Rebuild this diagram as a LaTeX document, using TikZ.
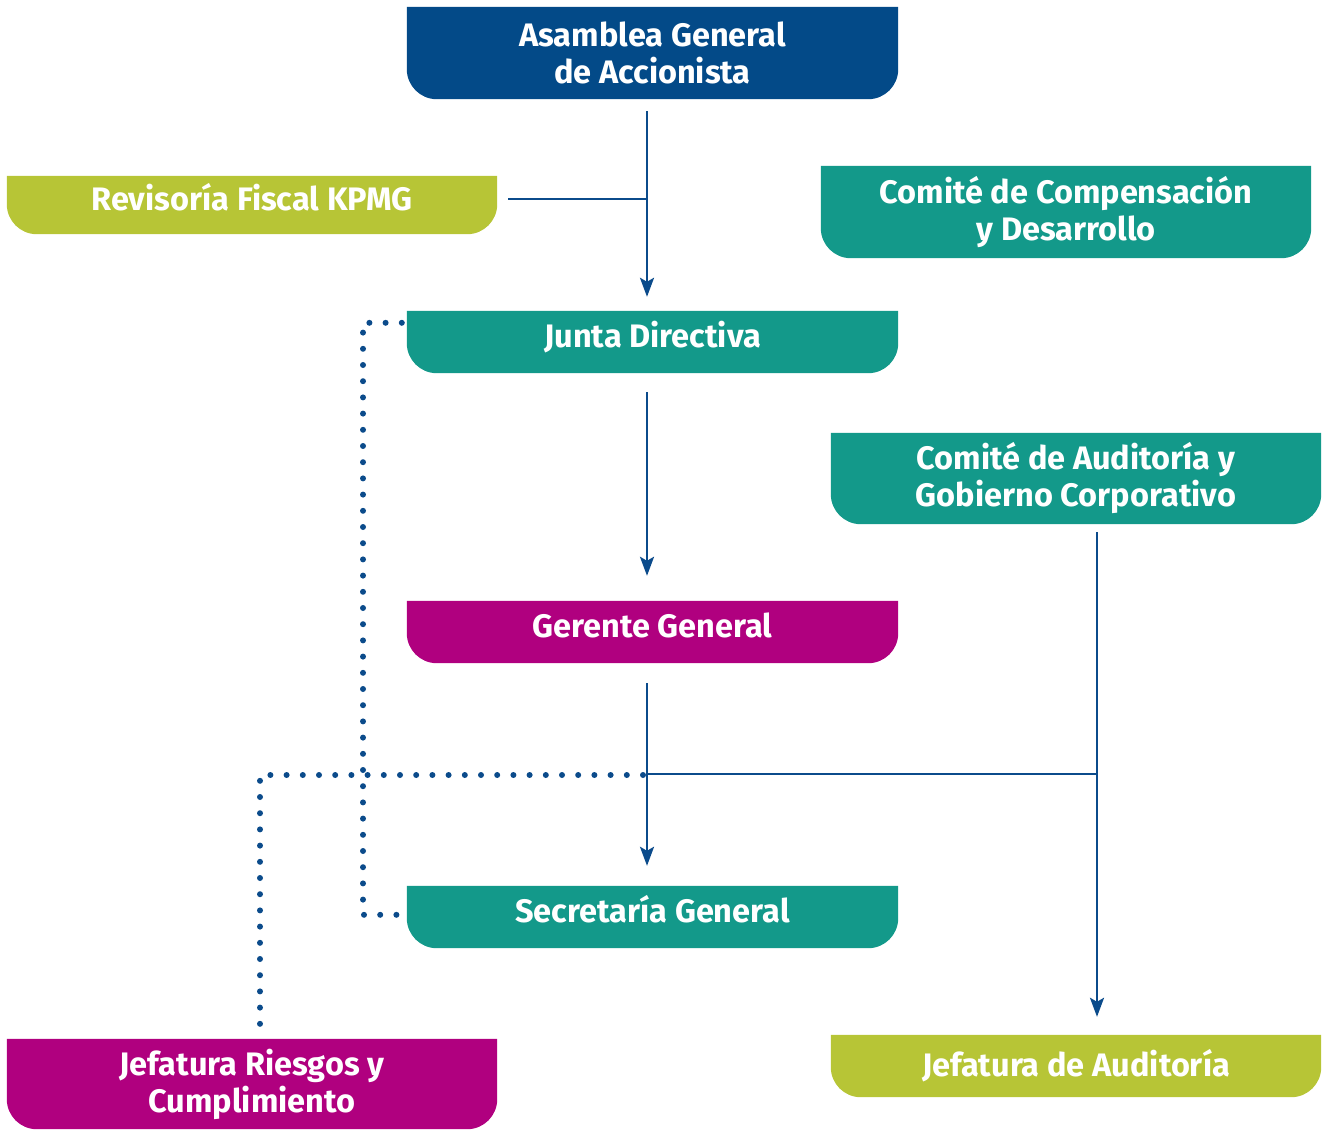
\documentclass[tikz,border=0pt]{standalone}
\usepackage{fontspec}
\setmainfont{Fira Sans}
\usetikzlibrary{arrows.meta,backgrounds}

\definecolor{navybox}{HTML}{034A88}
\definecolor{linkblue}{HTML}{0B4B8B}
\definecolor{limebox}{HTML}{B7C536}
\definecolor{tealbox}{HTML}{13998A}
\definecolor{plumbox}{HTML}{B0007F}

\tikzset{
  orgbox/.style={rectangle, inner sep=0pt, minimum width=491pt, align=center,
    text=white, font=\bfseries\fontsize{32.5}{37}\selectfont},
  oneline/.style={text height=22pt, text depth=11.6pt},
  link/.style={draw=linkblue, line width=2.6pt},
  arrowlink/.style={link, -{Stealth[length=19pt,width=14pt,inset=4pt]}},
  dotlink/.style={draw=linkblue, line width=6pt, line cap=round,
    dash pattern=on 0pt off 16.2pt},
}

\begin{document}
\begin{tikzpicture}[x=1pt,y=1pt]
\useasboundingbox (0,0) rectangle (1324,-1129);

% boxes
\node[orgbox, minimum height=92pt] (asm) at (652.5,-53) {Asamblea General\\de Accionista};
\node[orgbox, oneline, minimum height=58pt, minimum width=490pt] (rev) at (252,-205) {Revisoría Fiscal KPMG};
\node[orgbox, minimum height=92pt, minimum width=490pt] (ccd) at (1066,-212) {Comité de Compensación\\y Desarrollo};
\node[orgbox, oneline, minimum height=62pt] (jd) at (652.5,-342) {Junta Directiva};
\node[orgbox, minimum height=91pt, minimum width=490pt] (cag) at (1076,-478.5) {Comité de Auditoría y\\Gobierno Corporativo};
\node[orgbox, oneline, minimum height=62pt] (gg) at (652.5,-632) {Gerente General};
\node[orgbox, oneline, minimum height=62pt] (sg) at (652.5,-917) {Secretaría General};
\node[orgbox, minimum height=90pt, minimum width=490pt] (jrc) at (252,-1084) {Jefatura Riesgos y\\Cumplimiento};
\node[orgbox, minimum height=62pt, minimum width=490pt] (ja) at (1076,-1066) {Jefatura de Auditoría};

% box backgrounds: square top, rounded bottom
\begin{scope}[on background layer]
\foreach \n/\c in {asm/navybox, rev/limebox, ccd/tealbox, jd/tealbox, cag/tealbox,
                   gg/plumbox, sg/tealbox, jrc/plumbox, ja/limebox}
  \fill[\c] (\n.north west) -- (\n.north east)
    -- ([yshift=30pt]\n.south east) arc[start angle=0, end angle=-90, radius=30pt]
    -- ([xshift=30pt]\n.south west) arc[start angle=-90, end angle=-180, radius=30pt]
    -- cycle;
\end{scope}

% guide columns for the connectors
\coordinate (spine) at (647,0);
\coordinate (audx) at (1097,0);
\coordinate (split) at (647,-774);
\coordinate (dotx) at (363,0);
\coordinate (riskx) at (260,0);

% main chain
\draw[arrowlink, shorten <=12pt, shorten >=14pt] (asm.south -| spine) -- (jd.north -| spine);
\draw[link] ([xshift=11pt,yshift=6pt]rev.east) -- ([yshift=6pt]rev.east -| spine);
\draw[arrowlink, shorten <=19pt, shorten >=25pt] (jd.south -| spine) -- (gg.north -| spine);
\draw[arrowlink, shorten <=20pt, shorten >=20pt] (gg.south -| spine) -- (sg.north -| spine);

% audit branch
\draw[link] (split) -- (split -| audx);
\draw[arrowlink, shorten <=8pt, shorten >=18pt] (cag.south -| audx) -- (ja.north -| audx);

% dotted links
\draw[dotlink] ([xshift=-5pt,yshift=-12pt]jd.north west) -| ([yshift=-29pt]sg.north west -| dotx)
  -- ([xshift=-5pt,yshift=-29pt]sg.north west);
\draw[dotlink] ([xshift=-4pt,yshift=-1pt]split) -- ([yshift=-1pt]split -| riskx)
  -- ([yshift=3pt]jrc.north -| riskx);
\end{tikzpicture}
\end{document}
